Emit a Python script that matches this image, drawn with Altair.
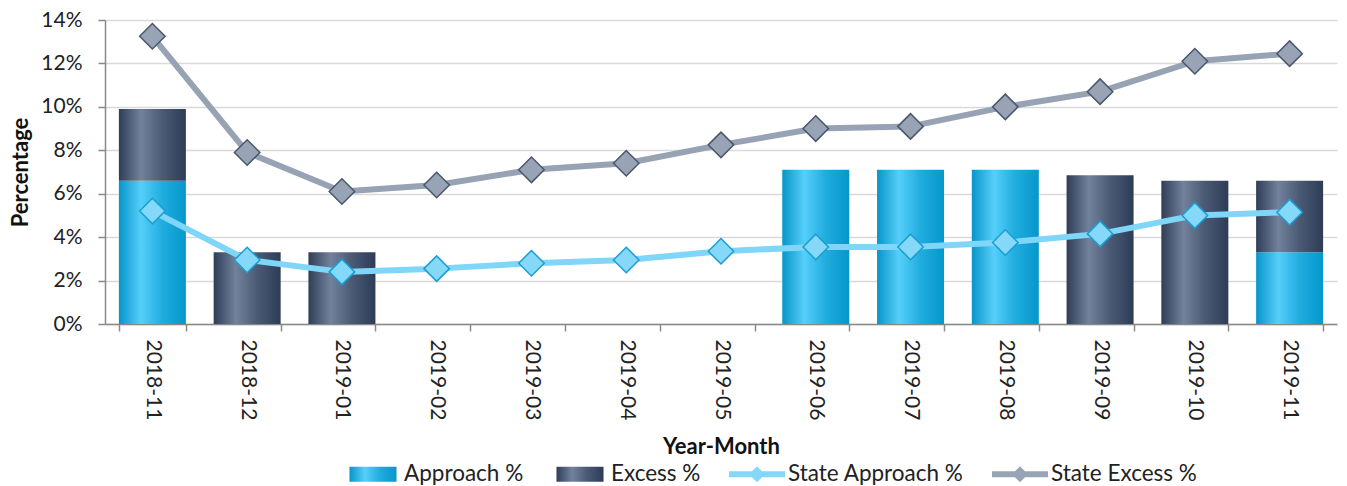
import altair as alt
import pandas as pd

# ---------------- data ----------------
months = ["2018-11", "2018-12", "2019-01", "2019-02", "2019-03", "2019-04", "2019-05",
          "2019-06", "2019-07", "2019-08", "2019-09", "2019-10", "2019-11"]
approach = [6.6, 0, 0, 0, 0, 0, 0, 7.1, 7.1, 7.1, 0, 0, 3.3]
excess = [3.3, 3.3, 3.3, 0, 0, 0, 0, 0, 0, 0, 6.85, 6.6, 3.3]
state_approach = [5.2, 2.95, 2.4, 2.55, 2.8, 2.95, 3.35, 3.55, 3.55, 3.75, 4.15, 5.0, 5.15]
state_excess = [13.25, 7.9, 6.1, 6.4, 7.1, 7.4, 8.25, 9.0, 9.1, 10.0, 10.7, 12.1, 12.45]
series_names = ["Approach %", "Excess %", "State Approach %", "State Excess %"]
y_ticks = [0, 2, 4, 6, 8, 10, 12, 14]

bar_rows = []
for m, a, e in zip(months, approach, excess):
    bar_rows.append({"month": m, "series": "Approach %", "value": a, "ord": 0})
    bar_rows.append({"month": m, "series": "Excess %", "value": e, "ord": 1})
bar_df = pd.DataFrame(bar_rows)

line_rows = []
for m, sa, se in zip(months, state_approach, state_excess):
    line_rows.append({"month": m, "series": "State Approach %", "value": sa})
    line_rows.append({"month": m, "series": "State Excess %", "value": se})
line_df = pd.DataFrame(line_rows)

legend_df = pd.DataFrame({"series": series_names})

# ---------------- styles ----------------
FONT = "Lato"
grad_a = ("{gradient: 'linear', x1: 0, y1: 0, x2: 1, y2: 0, stops: ["
          "{offset: 0, color: '#0795C9'}, {offset: 0.33, color: '#55CFFA'}, "
          "{offset: 0.65, color: '#20ACDF'}, {offset: 1, color: '#0597CB'}]}")
grad_e = ("{gradient: 'linear', x1: 0, y1: 0, x2: 1, y2: 0, stops: ["
          "{offset: 0, color: '#2F3D57'}, {offset: 0.33, color: '#72829C'}, "
          "{offset: 0.65, color: '#4A5A75'}, {offset: 1, color: '#2E3C56'}]}")

bar_path = "M-0.84,-0.27L0.84,-0.27L0.84,0.27L-0.84,0.27Z"
ld_path = ("M-1,-0.107L-0.179,-0.107L0,-0.286L0.179,-0.107L1,-0.107L1,0.107"
           "L0.179,0.107L0,0.286L-0.179,0.107L-1,0.107Z")

fill_scale = alt.Scale(domain=series_names,
                       range=[{"expr": grad_a}, {"expr": grad_e}, "#86D8F9", "#98A4B6"])
stroke_scale = alt.Scale(domain=series_names,
                         range=["transparent", "transparent", "#1A9ED1", "#4A576B"])
shape_scale = alt.Scale(domain=series_names,
                        range=[bar_path, bar_path, ld_path, ld_path])
line_scale = alt.Scale(domain=series_names,
                       range=["#000000", "#000000", "#80D6F8", "#97A3B5"])

legend = alt.Legend(orient="none", direction="horizontal", legendX=240, legendY=426,
                    labelFont=FONT, labelFontSize=22.5, labelColor="#222222", labelLimit=500,
                    symbolSize=3136, columnPadding=28, labelOffset=3,
                    symbolStrokeWidth=0, padding=0, symbolOpacity=1)

x_enc = alt.X("month:N", sort=months,
              scale=alt.Scale(domain=months, paddingInner=0.293, paddingOuter=0.1465),
              axis=alt.Axis(labelAngle=90, tickBand="extent", grid=False, labelPadding=8,
                            title="Year-Month", titleY=129, titleBaseline="alphabetic"))
y_scale = alt.Scale(domain=[0, 14], nice=False)
y_axis = alt.Axis(values=y_ticks, labelExpr="datum.value + '%'", labelPadding=16,
                  title="Percentage", titleX=-78, titleY=152, titleAngle=-90,
                  titleAlign="center", titleBaseline="alphabetic")

bars = alt.Chart(bar_df).mark_bar().encode(
    x=x_enc,
    y=alt.Y("value:Q", stack="zero", scale=y_scale, axis=y_axis),
    fill=alt.Fill("series:N", scale=fill_scale, title=None, legend=legend),
    order=alt.Order("ord:Q", sort="ascending"),
)

lines = alt.Chart(line_df).mark_line(strokeWidth=6, strokeJoin="round", strokeCap="round").encode(
    x=x_enc,
    y=alt.Y("value:Q", scale=y_scale),
    color=alt.Color("series:N", scale=line_scale, legend=None),
)

points = alt.Chart(line_df).mark_point(filled=True, shape="diamond", size=650,
                                       strokeWidth=1.5, opacity=1).encode(
    x=x_enc,
    y=alt.Y("value:Q", scale=y_scale),
    fill=alt.Fill("series:N", scale=fill_scale, title=None, legend=legend),
    stroke=alt.Stroke("series:N", scale=stroke_scale, title=None, legend=None),
)

carrier = alt.Chart(legend_df).mark_point(filled=True, opacity=0).encode(
    fill=alt.Fill("series:N", scale=fill_scale, title=None, legend=legend),
    shape=alt.Shape("series:N", scale=shape_scale, title=None, legend=legend),
)

chart = alt.layer(bars, lines, points, carrier).properties(
    width=1232, height=304,
    background="white",
    autosize=alt.AutoSizeParams(type="none"),
    padding={"left": 105, "top": 20, "right": 10, "bottom": 162},
).configure_view(stroke=None).configure_axis(
    domainColor="#898989", domainWidth=1.5, tickColor="#898989", tickWidth=1.5, tickSize=7,
    gridColor="#D9D9D9", gridWidth=1.5,
    labelFont=FONT, labelFontSize=21, labelColor="#222222",
    titleFont=FONT, titleFontSize=22, titleFontWeight="bold", titleColor="#111111",
)

chart.save("out.html", embed_options={"renderer": "svg", "actions": False})
